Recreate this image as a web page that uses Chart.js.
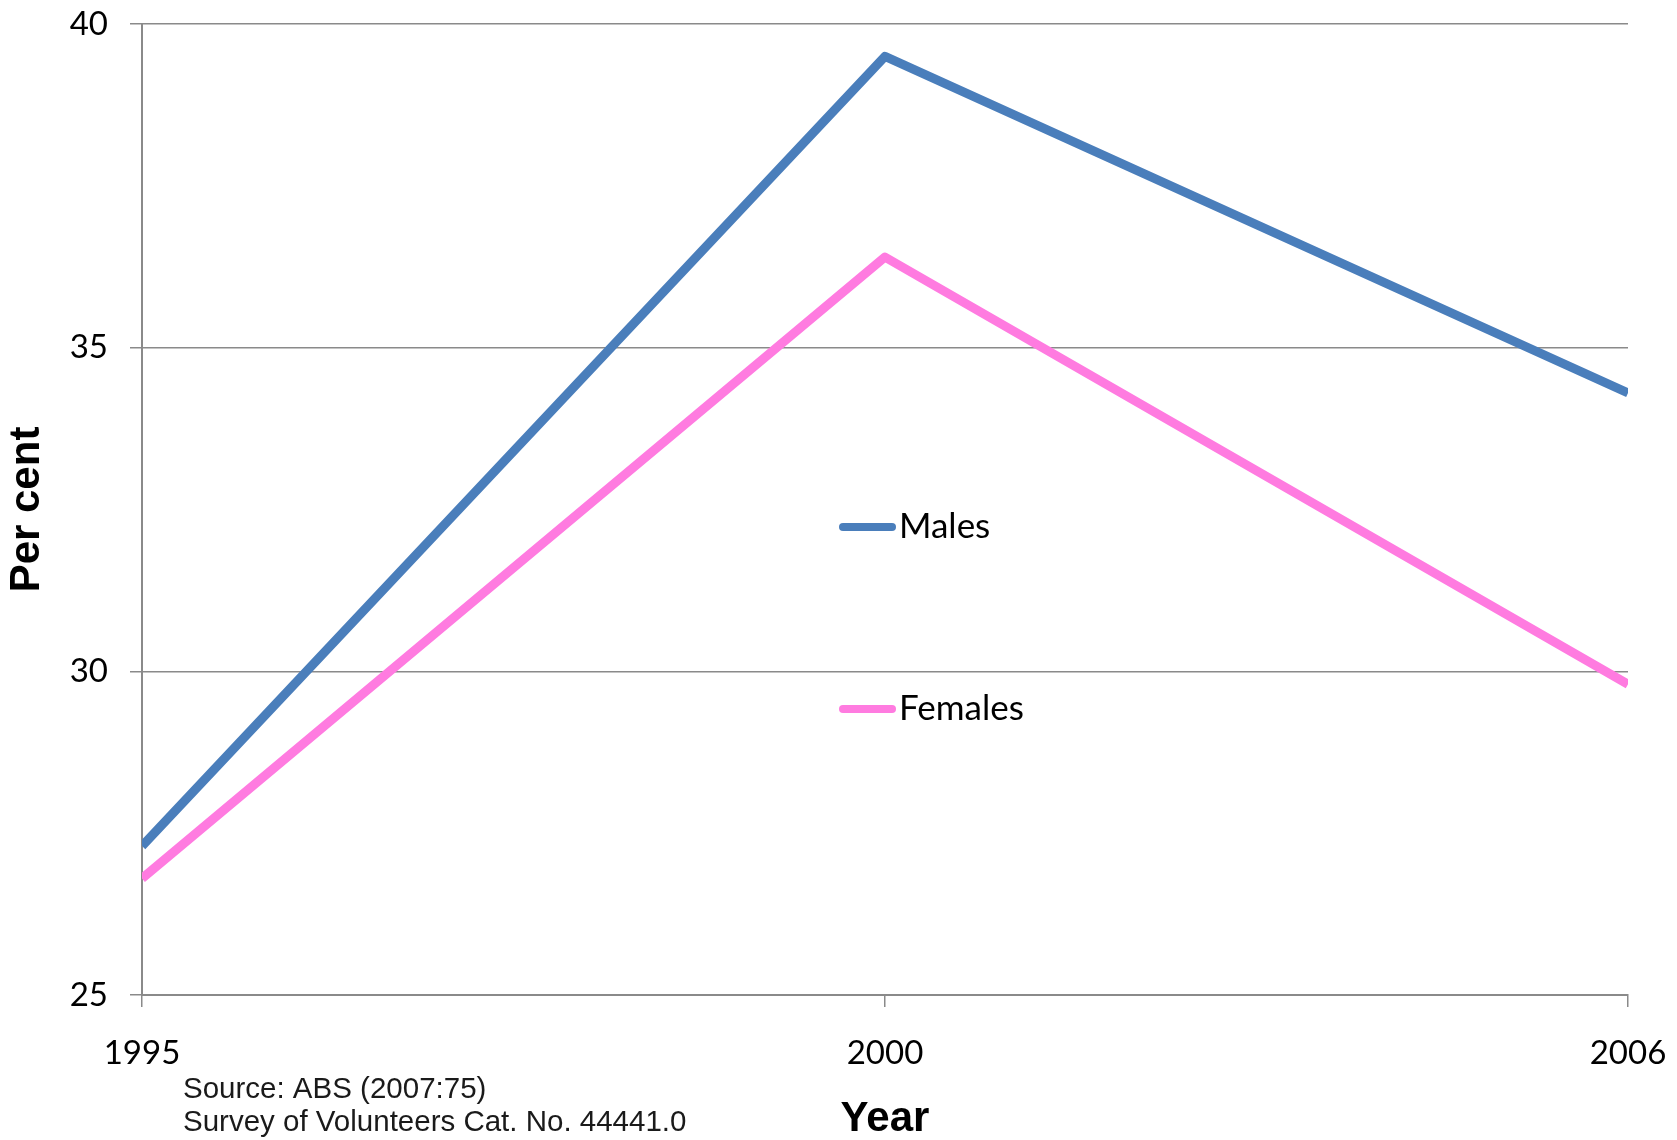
<!DOCTYPE html>
<html>
<head>
<meta charset="utf-8">
<script src="https://cdn.jsdelivr.net/npm/chart.js@4"></script>
<style>
  html, body { margin: 0; padding: 0; background: #fff; }
  #myChart { display: block; }
</style>
</head>
<body>
<canvas id="myChart" width="1677" height="1140"></canvas>
<script>
// Data ------------------------------------------
var years = ['1995', '2000', '2006'];
var males = [27.3, 39.5, 34.3];      // Males, per cent
var females = [26.8, 36.4, 29.8];    // Females, per cent
var yTicks = [25, 30, 35, 40];
var seriesNames = ['Males', 'Females'];
var sourceLines = ['Source: ABS (2007:75)', 'Survey of Volunteers Cat. No. 44441.0'];

var gridColor = '#8a8a8a';
var tickFont = { family: 'Lato', size: 33 };
var titleFont = { family: '"Liberation Sans", Arial', size: 42, weight: 'bold', lineHeight: 1 };

// legend sits inside the plot, one item under the other
var legendPlugin = {
  id: 'innerLegend',
  afterDraw: function (chart) {
    var ctx = chart.ctx;
    var spots = [527, 709];
    ctx.save();
    chart.data.datasets.forEach(function (ds, i) {
      var y = spots[i];
      ctx.strokeStyle = ds.borderColor;
      ctx.lineWidth = 8;
      ctx.lineCap = 'round';
      ctx.beginPath();
      ctx.moveTo(843, y);
      ctx.lineTo(892, y);
      ctx.stroke();
      ctx.fillStyle = '#000';
      ctx.font = '35px Lato';
      ctx.textBaseline = 'middle';
      ctx.textAlign = 'left';
      ctx.fillText(ds.label, 899, y);
    });
    // source note
    ctx.font = '29.5px "Liberation Sans", Arial';
    ctx.fillStyle = '#1a1a1a';
    ctx.textBaseline = 'alphabetic';
    ctx.fillText(sourceLines[0], 183, 1098);
    ctx.fillText(sourceLines[1], 183, 1131);
    ctx.restore();
  }
};

//Chart ------------------------------------------
var ctx = document.getElementById('myChart').getContext('2d');
var myChart = new Chart(ctx, {
  type: 'line',
  data: {
    labels: years,
    datasets: [{
      label: seriesNames[0],
      data: males,
      borderColor: '#4A7EBB',
      borderWidth: 9,
      borderJoinStyle: 'round',
      pointRadius: 0,
      tension: 0,
      clip: 0
    }, {
      label: seriesNames[1],
      data: females,
      borderColor: '#FF7BE0',
      borderWidth: 9,
      borderJoinStyle: 'round',
      pointRadius: 0,
      tension: 0,
      clip: 0
    }]
  },
  options: {
    responsive: false,
    animation: false,
    layout: { padding: { left: 0, right: 49, top: 24, bottom: 0 } },
    plugins: {
      legend: { display: false },
      tooltip: { enabled: false }
    },
    scales: {
      x: {
        type: 'category',
        offset: false,
        grid: { drawOnChartArea: false, drawTicks: true, tickLength: 12, color: gridColor, lineWidth: 1.5 },
        border: { color: gridColor, width: 2 },
        ticks: { color: '#000', font: tickFont, padding: 27, maxRotation: 0, autoSkip: false },
        title: {
          display: true,
          text: 'Year',
          color: '#000',
          font: titleFont,
          padding: { top: 0, bottom: 0 }
        },
        afterFit: function (scale) {
          scale.height = 145;
          scale.paddingLeft = 0;
          scale.paddingRight = 0;
        }
      },
      y: {
        min: 25,
        max: 40,
        afterBuildTicks: function (scale) {
          scale.ticks = yTicks.map(function (v) { return { value: v }; });
        },
        grid: { color: gridColor, lineWidth: 1.5, tickLength: 12 },
        border: { color: gridColor, width: 2 },
        ticks: { color: '#000', font: tickFont, padding: 22 },
        title: {
          display: true,
          text: 'Per cent',
          color: '#000',
          font: titleFont,
          padding: { top: 6, bottom: 0 }
        },
        afterFit: function (scale) {
          scale.width = 142;
          scale.paddingTop = 0;
          scale.paddingBottom = 0;
        }
      }
    }
  },
  plugins: [legendPlugin]
});
</script>
</body>
</html>
